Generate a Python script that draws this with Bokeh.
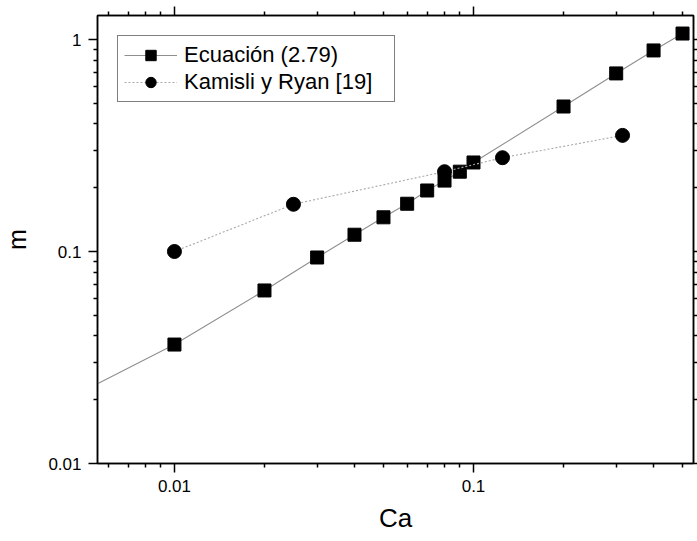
from bokeh.plotting import figure
from bokeh.models import (Range1d, LogAxis, FixedTicker, CustomJSTickFormatter,
                          Legend, LegendItem)
from bokeh.embed import file_html
from bokeh.resources import INLINE

# --- data ---
ca_ecuacion = [0.01, 0.02, 0.03, 0.04, 0.05, 0.06, 0.07, 0.08, 0.09, 0.1, 0.2, 0.3, 0.4, 0.5]
m_ecuacion = [0.0364, 0.0655, 0.0937, 0.120, 0.145, 0.168, 0.194, 0.216, 0.238, 0.263,
              0.483, 0.692, 0.888, 1.067]
# fitted curve of the equation (extends to the left edge of the plot)
ca_curve = [0.00553, 0.01, 0.02, 0.03, 0.04, 0.05, 0.06, 0.07, 0.08, 0.09, 0.1, 0.2, 0.3, 0.4, 0.5]
m_curve = [0.0238, 0.0364, 0.0655, 0.0937, 0.120, 0.145, 0.168, 0.194, 0.216, 0.238, 0.263,
           0.483, 0.692, 0.888, 1.067]

ca_kamisli = [0.01, 0.025, 0.08, 0.125, 0.315]
m_kamisli = [0.100, 0.167, 0.238, 0.277, 0.353]

x_major = [0.01, 0.1]
x_minor = [0.006, 0.007, 0.008, 0.009, 0.02, 0.03, 0.04, 0.05, 0.06, 0.07, 0.08, 0.09,
           0.2, 0.3, 0.4, 0.5]
y_major = [0.01, 0.1, 1]
y_minor = [0.02, 0.03, 0.04, 0.05, 0.06, 0.07, 0.08, 0.09,
           0.2, 0.3, 0.4, 0.5, 0.6, 0.7, 0.8, 0.9]

x_lo, x_hi = 0.00553, 0.544
y_lo, y_hi = 0.01, 1.298

FONT = "Liberation Sans"

p = figure(width=697, height=541, x_axis_type="log", y_axis_type="log",
           x_range=Range1d(x_lo, x_hi), y_range=Range1d(y_lo, y_hi),
           output_backend="svg", toolbar_location=None,
           min_border_left=97, min_border_right=0, min_border_top=15, min_border_bottom=78)

p.xgrid.visible = False
p.ygrid.visible = False
p.outline_line_color = "black"
p.outline_line_width = 1.5
p.background_fill_color = "white"
p.border_fill_color = "white"

fmt = CustomJSTickFormatter(code="return tick.toString();")

def style_axis(ax, ticker, labels=True):
    ax.ticker = ticker
    ax.axis_line_color = "black"
    ax.axis_line_width = 1.5
    ax.major_tick_line_color = "black"
    ax.minor_tick_line_color = "black"
    ax.major_tick_line_width = 1.5
    ax.minor_tick_line_width = 1.5
    ax.major_tick_in = 0
    ax.minor_tick_in = 0
    ax.major_tick_out = 9
    ax.minor_tick_out = 4
    if labels:
        ax.formatter = fmt
        ax.major_label_text_font = FONT
        ax.major_label_text_font_size = "17px"
        ax.major_label_text_color = "black"
        ax.major_label_standoff = 7
    else:
        ax.formatter = CustomJSTickFormatter(code="return '';")
        ax.major_label_text_font_size = "0px"
        ax.major_label_standoff = 0

xt = FixedTicker(ticks=x_major, minor_ticks=x_minor)
yt = FixedTicker(ticks=y_major, minor_ticks=y_minor)

style_axis(p.xaxis[0], xt)
style_axis(p.yaxis[0], yt)
p.xaxis.axis_label = "Ca"
p.yaxis.axis_label = "m"
for ax, sz, so in ((p.xaxis[0], "26px", 8), (p.yaxis[0], "25px", 14)):
    ax.axis_label_text_font = FONT
    ax.axis_label_text_font_size = sz
    ax.axis_label_text_font_style = "normal"
    ax.axis_label_text_color = "black"
    ax.axis_label_standoff = so

top_ax = LogAxis()
style_axis(top_ax, FixedTicker(ticks=x_major, minor_ticks=x_minor), labels=False)
p.add_layout(top_ax, "above")
right_ax = LogAxis()
style_axis(right_ax, FixedTicker(ticks=y_major, minor_ticks=y_minor), labels=False)
right_ax.major_tick_out = 4
right_ax.minor_tick_out = 4
p.add_layout(right_ax, "right")

l1 = p.line(ca_curve, m_curve, line_color="#8f8f8f", line_width=1.1)
s1 = p.scatter(ca_ecuacion, m_ecuacion, marker="square", size=13,
               fill_color="black", line_color="black")
l2 = p.line(ca_kamisli, m_kamisli, line_color="#a8a8a8", line_width=1.1, line_dash="2 2")
s2 = p.scatter(ca_kamisli, m_kamisli, marker="circle", size=14,
               fill_color="black", line_color="black")

legend = Legend(items=[LegendItem(label="Ecuación (2.79)", renderers=[l1, s1]),
                       LegendItem(label="Kamisli y Ryan [19]", renderers=[l2, s2])],
                location="top_left", margin=20, padding=6, spacing=1,
                glyph_width=53, glyph_height=26, label_height=26, label_width=204,
                label_standoff=7,
                label_text_font=FONT, label_text_font_size="22px",
                label_text_color="black",
                border_line_color="black", border_line_width=1.5,
                background_fill_color="white", background_fill_alpha=1.0)
p.add_layout(legend)

open("out.html", "w").write(file_html(p, INLINE))
